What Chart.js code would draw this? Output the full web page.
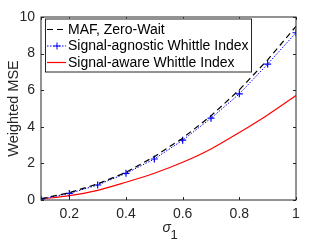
<!DOCTYPE html>
<html><head><meta charset="utf-8">
<script src="https://cdn.jsdelivr.net/npm/chart.js@4"></script>
<style>html,body{margin:0;padding:0;background:#fff;}#wrap{width:327px;height:245px;}</style>
</head><body><div id="wrap"><canvas id="c" width="327" height="245"></canvas></div>
<script>
const sigma = [0.1,0.2,0.3,0.4,0.5,0.6,0.7,0.8,0.9,1.0];
const mafZeroWait = [0.07,0.40,0.88,1.51,2.37,3.38,4.60,6.02,7.66,9.49];
const agnosticWhittle = [0.05,0.36,0.82,1.46,2.24,3.27,4.47,5.80,7.43,9.14];
const awareWhittle = [0.05,0.24,0.53,0.97,1.46,2.06,2.79,3.69,4.65,5.71];
const xTicks = [0.1,0.2,0.4,0.6,0.8,1.0];
const yTicks = [0,2,4,6,8,10];
const seriesNames = ['MAF, Zero-Wait','Signal-agnostic Whittle Index','Signal-aware Whittle Index'];

const FONT = '"Liberation Sans", Arial, sans-serif';
const AX = '#262626';
const pts = arr => sigma.map((s,i)=>({x:s,y:arr[i]}));

const frame = {
  id:'frame',
  afterDraw(chart){
    const {ctx, chartArea:a, scales:{x,y}} = chart;
    ctx.save();
    ctx.strokeStyle = AX; ctx.lineWidth = 1;
    ctx.strokeRect(a.left, a.top, a.right-a.left, a.bottom-a.top);
    const L = 3;
    ctx.beginPath();
    xTicks.forEach(v=>{ const p=Math.round(x.getPixelForValue(v))+0.5;
      ctx.moveTo(p,a.bottom); ctx.lineTo(p,a.bottom-L);
      ctx.moveTo(p,a.top); ctx.lineTo(p,a.top+L); });
    yTicks.forEach(v=>{ const p=Math.round(y.getPixelForValue(v))+0.5;
      ctx.moveTo(a.left,p); ctx.lineTo(a.left+L,p);
      ctx.moveTo(a.right,p); ctx.lineTo(a.right-L,p); });
    ctx.stroke();
    // legend
    const lx = a.left+4, ly = a.top+1.5, lw = 206, lh = 53;
    ctx.fillStyle='#fff'; ctx.fillRect(lx,ly,lw,lh);
    ctx.strokeStyle=AX; ctx.strokeRect(lx+0.5,ly+0.5,lw,lh);
    ctx.font = '14px '+FONT; ctx.textBaseline='middle'; ctx.fillStyle='#000';
    chart.data.datasets.forEach((ds,i)=>{
      const yy = ly + 11 + i*16.5;
      ctx.save();
      ctx.strokeStyle = ds.borderColor; ctx.lineWidth = ds.borderWidth;
      ctx.setLineDash(ds.borderDash||[]);
      ctx.beginPath(); ctx.moveTo(lx+2,yy); ctx.lineTo(lx+21,yy); ctx.stroke();
      ctx.setLineDash([]);
      if (ds.pointStyle==='cross' && ds.pointRadius>0){
        ctx.beginPath(); ctx.moveTo(lx+12-3.5,yy); ctx.lineTo(lx+12+3.5,yy);
        ctx.moveTo(lx+12,yy-3.5); ctx.lineTo(lx+12,yy+3.5); ctx.stroke();
      }
      ctx.restore();
      ctx.fillText(seriesNames[i], lx+23, yy+0.5);
    });
    // x title
    ctx.fillStyle = AX;
    ctx.font = 'italic 14px '+FONT; ctx.textBaseline='alphabetic'; ctx.textAlign='left';
    const cx = (a.left+a.right)/2 - 6;
    ctx.fillText('σ', cx, 232);
    ctx.font = '13px '+FONT;
    ctx.fillText('1', cx+8, 239);
    ctx.restore();
  }
};

new Chart(document.getElementById('c'), {
  type:'line',
  data:{ datasets:[
    {label:seriesNames[0], data:pts(mafZeroWait), borderColor:'#000000', borderWidth:1.2, borderDash:[6,4], pointRadius:0, tension:0},
    {label:seriesNames[1], data:pts(agnosticWhittle), borderColor:'#0000ff', borderWidth:1, borderDash:[1.5,1.5], pointStyle:'cross', pointRadius:3.5, pointBorderWidth:1.2, pointBorderColor:'#0000ff', tension:0},
    {label:seriesNames[2], data:pts(awareWhittle), borderColor:'#ff0000', borderWidth:1.2, pointRadius:0, tension:0.35, cubicInterpolationMode:'monotone'}
  ]},
  options:{
    responsive:false, animation:false, devicePixelRatio:1,
    layout:{padding:{top:17, right:31, left:0, bottom:0}},
    plugins:{legend:{display:false}, tooltip:{enabled:false}},
    scales:{
      x:{type:'linear', min:0.1, max:1,
        afterBuildTicks:s=>{ s.ticks = xTicks.map(v=>({value:v})); },
        afterFit:s=>{ s.height = 45; },
        grid:{display:false, drawTicks:false}, border:{display:false},
        ticks:{padding:6, color:AX, font:{family:FONT,size:14},
          callback:(v)=> v===0.1 ? '' : (v===1 ? '1' : String(Math.round(v*10)/10))}},
      y:{type:'linear', min:0, max:10,
        afterBuildTicks:s=>{ s.ticks = yTicks.map(v=>({value:v})); },
        afterFit:s=>{ s.width = 41; },
        grid:{display:false, drawTicks:false}, border:{display:false},
        title:{display:true, text:'Weighted MSE', color:AX, font:{family:FONT,size:14.5}, padding:{top:5,bottom:0}},
        ticks:{padding:6, color:AX, font:{family:FONT,size:14}}}
    }
  },
  plugins:[frame]
});
</script></body></html>
